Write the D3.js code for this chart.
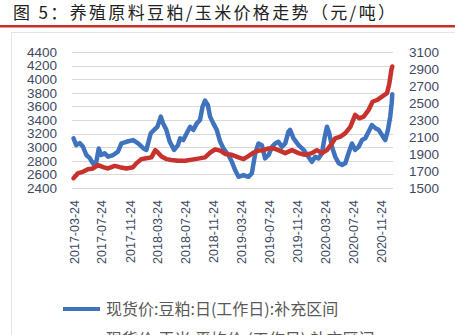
<!DOCTYPE html>
<html>
<head>
<meta charset="utf-8">
<script src="https://cdn.jsdelivr.net/npm/d3@7"></script>
<style>
  body { margin: 0; background: #fff; }
  svg { display: block; }
</style>
</head>
<body>
<svg></svg>
<script>
// soymeal spot price (left axis)
var mealDates = ["2017-03-24","2017-04-05","2017-04-20","2017-05-04","2017-05-19","2017-06-03","2017-06-17","2017-07-02","2017-07-12","2017-07-23",
  "2017-08-07","2017-08-22","2017-09-13","2017-10-04","2017-10-19","2017-11-10","2017-12-09","2017-12-31","2018-01-22","2018-02-05",
  "2018-02-24","2018-03-11","2018-03-25","2018-04-09","2018-04-19","2018-05-03","2018-05-18","2018-06-06","2018-06-23","2018-07-02",
  "2018-07-16","2018-07-31","2018-08-15","2018-08-29","2018-09-13","2018-09-27","2018-10-08","2018-10-19","2018-10-31","2018-11-10",
  "2018-11-24","2018-12-09","2018-12-24","2019-01-07","2019-01-29","2019-02-13","2019-02-27","2019-03-14","2019-04-05","2019-04-26",
  "2019-05-11","2019-05-26","2019-06-09","2019-06-24","2019-07-08","2019-07-23","2019-08-07","2019-08-21","2019-09-04","2019-09-19",
  "2019-10-04","2019-10-18","2019-10-25","2019-11-09","2019-12-01","2019-12-23","2020-01-13","2020-01-28","2020-02-12","2020-02-26",
  "2020-03-12","2020-03-23","2020-04-03","2020-04-13","2020-04-25","2020-05-09","2020-05-24","2020-06-07","2020-06-22","2020-07-06",
  "2020-07-21","2020-08-04","2020-08-19","2020-09-03","2020-09-17","2020-10-02","2020-10-16","2020-10-31","2020-11-14","2020-11-29",
  "2020-12-13","2020-12-25","2021-01-04","2021-01-10","2021-01-13"];
var mealValues = [3130,3030,3060,3010,2885,2840,2760,2790,2980,2885,
  2910,2860,2885,2935,3055,3080,3105,3055,2985,2960,
  3205,3255,3300,3450,3350,3255,3080,2960,3030,3130,
  3105,3205,3300,3255,3350,3400,3595,3685,3620,3450,
  3350,3255,3080,2985,2885,2785,2665,2565,2590,2565,
  2615,2910,3055,3030,2835,2885,3005,3055,3080,3005,
  3055,3230,3255,3130,3030,2960,2860,2785,2860,2835,
  2910,3130,3300,3205,3005,2860,2765,2740,2765,2910,
  3055,2960,3005,3105,3130,3230,3325,3280,3255,3180,
  3105,3255,3450,3640,3780];

// corn average spot price (right axis)
var cornDates = ["2017-03-24","2017-04-13","2017-05-04","2017-05-26","2017-06-17","2017-07-09","2017-07-31","2017-08-22","2017-09-20","2017-10-12",
  "2017-11-10","2017-12-09","2017-12-23","2018-01-14","2018-02-05","2018-02-27","2018-03-16","2018-03-28","2018-04-12","2018-05-03",
  "2018-05-25","2018-06-23","2018-07-24","2018-09-06","2018-10-19","2018-11-10","2018-12-02","2018-12-24","2019-01-15","2019-02-13",
  "2019-03-14","2019-04-05","2019-04-26","2019-05-18","2019-06-09","2019-07-01","2019-07-23","2019-08-14","2019-09-04","2019-10-04",
  "2019-11-02","2019-12-01","2019-12-28","2020-01-28","2020-02-19","2020-03-12","2020-04-03","2020-04-25","2020-05-09","2020-06-01",
  "2020-06-22","2020-07-14","2020-08-04","2020-08-22","2020-09-10","2020-10-02","2020-10-19","2020-11-07","2020-11-29","2020-12-21",
  "2020-12-31","2021-01-09","2021-01-13"];
var cornValues = [1615,1675,1690,1720,1730,1770,1745,1730,1760,1745,
  1730,1745,1790,1840,1850,1860,1945,1915,1870,1840,
  1830,1820,1820,1840,1860,1915,1955,1940,1900,1890,
  1860,1840,1875,1915,1940,1945,1965,1965,1945,1910,
  1945,1910,1890,1910,1945,1910,1945,2025,2085,2105,
  2145,2220,2360,2320,2340,2420,2515,2535,2575,2615,
  2730,2890,2930];

var leftTicks = d3.range(2400, 4401, 200);
var rightTicks = d3.range(1500, 3101, 200);
var dateTicks = ["2017-03-24","2017-07-24","2017-11-24","2018-03-24","2018-07-24","2018-11-24",
  "2019-03-24","2019-07-24","2019-11-24","2020-03-24","2020-07-24","2020-11-24"];

var seriesNames = ["现货价:豆粕:日(工作日):补充区间", "现货价:玉米:平均价:(工作日):补充区间"];
var seriesColors = ["#3f73bd", "#c8322d"];

var W = 455, H = 335;
var parse = d3.timeParse("%Y-%m-%d");
var svg = d3.select("svg").attr("width", W).attr("height", H);

var x = d3.scaleTime()
  .domain([parse("2017-03-24"), parse("2021-01-13")])
  .range([73.5, 392.3]);
var yL = d3.scaleLinear().domain([2400, 4400]).range([188, 52]);
var yR = d3.scaleLinear().domain([1500, 3100]).range([188, 52]);

// title + red rule
svg.append("text")
  .attr("x", 13).attr("y", 19)
  .attr("font-family", "Noto Sans CJK SC")
  .attr("font-size", 17)
  .attr("fill", "#222")
  .attr("textLength", 382)
  .attr("lengthAdjust", "spacing")
  .text("图 5：养殖原料豆粕/玉米价格走势（元/吨）");
svg.append("rect").attr("x", 0).attr("y", 25).attr("width", W).attr("height", 2.5).attr("fill", "#c9302c");

// chart frame
svg.append("rect")
  .attr("x", 11.5).attr("y", 32.5).attr("width", W).attr("height", H)
  .attr("fill", "none").attr("stroke", "#e3e3e3");

// grid
svg.append("g").selectAll("line")
  .data(leftTicks).enter().append("line")
  .attr("x1", 72).attr("x2", 393)
  .attr("y1", function(d){ return Math.round(yL(d)) + 0.5; })
  .attr("y2", function(d){ return Math.round(yL(d)) + 0.5; })
  .attr("stroke", "#d9d9d9");

var tickFont = "Liberation Sans";
var tickColor = "#3e4a63";

var axL = svg.append("g").attr("transform", "translate(72,0)")
  .call(d3.axisLeft(yL).tickValues(leftTicks).tickSize(0).tickPadding(15).tickFormat(d3.format("d")));
var axR = svg.append("g").attr("transform", "translate(393,0)")
  .call(d3.axisRight(yR).tickValues(rightTicks).tickSize(0).tickPadding(16).tickFormat(d3.format("d")));
var axX = svg.append("g").attr("transform", "translate(0,188)")
  .call(d3.axisBottom(x).tickValues(dateTicks.map(parse)).tickSize(0).tickFormat(d3.timeFormat("%Y-%m-%d")));

[axL, axR, axX].forEach(function(ax){
  ax.select(".domain").remove();
  ax.selectAll("text")
    .attr("font-family", tickFont)
    .attr("font-size", 13.5)
    .attr("fill", tickColor);
});
axX.selectAll("text")
  .attr("font-size", 12.5)
  .attr("transform", "rotate(-90)")
  .attr("text-anchor", "end")
  .attr("x", -12).attr("y", 0).attr("dy", "0.36em");

// lines
var mealData = mealDates.map(function(d, i){ return {date: parse(d), value: mealValues[i]}; });
var cornData = cornDates.map(function(d, i){ return {date: parse(d), value: cornValues[i]}; });

svg.append("path").datum(mealData)
  .attr("fill", "none").attr("stroke", seriesColors[0]).attr("stroke-width", 4.5)
  .attr("stroke-linejoin", "round").attr("stroke-linecap", "round")
  .attr("d", d3.line().x(function(d){ return x(d.date); }).y(function(d){ return yL(d.value); }));
svg.append("path").datum(cornData)
  .attr("fill", "none").attr("stroke", seriesColors[1]).attr("stroke-width", 4.5)
  .attr("stroke-linejoin", "round").attr("stroke-linecap", "round")
  .attr("d", d3.line().x(function(d){ return x(d.date); }).y(function(d){ return yR(d.value); }));

// legend (second entry is cut by the bottom edge, as in the source image)
var legend = svg.append("g").selectAll("g")
  .data(seriesNames).enter().append("g")
  .attr("transform", function(d, i){ return "translate(0," + (309 + i * 30) + ")"; });
legend.append("line")
  .attr("x1", 63).attr("x2", 100).attr("y1", 0).attr("y2", 0)
  .attr("stroke", function(d, i){ return seriesColors[i]; }).attr("stroke-width", 4);
legend.append("text")
  .attr("x", 106).attr("y", 6)
  .attr("font-family", "Noto Sans CJK SC")
  .attr("font-size", 16)
  .attr("fill", "#595959")
  .text(function(d){ return d; });
</script>
</body>
</html>
